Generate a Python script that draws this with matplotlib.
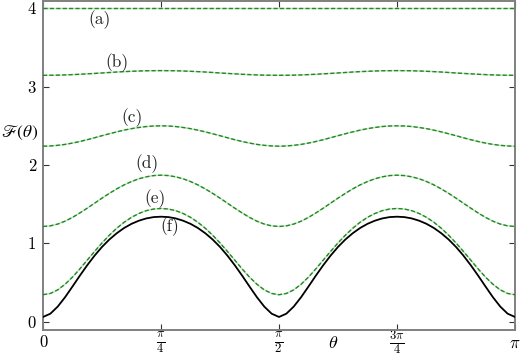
import numpy as np
import matplotlib
matplotlib.use("Agg")
import matplotlib.pyplot as plt

plt.rcParams['font.family'] = 'serif'
plt.rcParams['font.serif'] = ['cmr10']
plt.rcParams['mathtext.fontset'] = 'cm'
plt.rcParams['axes.unicode_minus'] = False

# ---------------- data ----------------
theta = np.linspace(0, np.pi, 65)

theta_a = [0.0, np.pi / 4, np.pi / 2, 3 * np.pi / 4, np.pi]
F_a = [4.0, 4.0, 4.0, 4.0, 4.0]

F_b = [3.145, 3.146, 3.147, 3.150, 3.154, 3.158, 3.164, 3.169, 3.175, 3.181, 3.187, 3.192, 3.196, 3.200, 3.203, 3.204, 3.205,
       3.204, 3.203, 3.200, 3.196, 3.192, 3.187, 3.181, 3.175, 3.169, 3.164, 3.158, 3.154, 3.150, 3.147, 3.146, 3.145,
       3.146, 3.147, 3.150, 3.154, 3.158, 3.164, 3.169, 3.175, 3.181, 3.187, 3.192, 3.196, 3.200, 3.203, 3.204, 3.205,
       3.204, 3.203, 3.200, 3.196, 3.192, 3.187, 3.181, 3.175, 3.169, 3.164, 3.158, 3.154, 3.150, 3.147, 3.146, 3.145]

F_c = [2.240, 2.243, 2.251, 2.263, 2.280, 2.300, 2.323, 2.348, 2.374, 2.399, 2.423, 2.445, 2.464, 2.479, 2.491, 2.498, 2.500,
       2.498, 2.491, 2.479, 2.464, 2.445, 2.423, 2.399, 2.374, 2.348, 2.323, 2.300, 2.280, 2.263, 2.251, 2.243, 2.240,
       2.243, 2.251, 2.263, 2.280, 2.300, 2.323, 2.348, 2.374, 2.399, 2.423, 2.445, 2.464, 2.479, 2.491, 2.498, 2.500,
       2.498, 2.491, 2.479, 2.464, 2.445, 2.423, 2.399, 2.374, 2.348, 2.323, 2.300, 2.280, 2.263, 2.251, 2.243, 2.240]

F_d = [1.215, 1.223, 1.246, 1.283, 1.331, 1.388, 1.449, 1.513, 1.577, 1.638, 1.695, 1.746, 1.789, 1.824, 1.849, 1.865, 1.870,
       1.865, 1.849, 1.824, 1.789, 1.746, 1.695, 1.638, 1.577, 1.513, 1.449, 1.388, 1.331, 1.283, 1.246, 1.223, 1.215,
       1.223, 1.246, 1.283, 1.331, 1.388, 1.449, 1.513, 1.577, 1.638, 1.695, 1.746, 1.789, 1.824, 1.849, 1.865, 1.870,
       1.865, 1.849, 1.824, 1.789, 1.746, 1.695, 1.638, 1.577, 1.513, 1.449, 1.388, 1.331, 1.283, 1.246, 1.223, 1.215]

F_e = [0.344, 0.360, 0.406, 0.478, 0.569, 0.674, 0.786, 0.897, 1.005, 1.104, 1.193, 1.269, 1.332, 1.381, 1.417, 1.438, 1.445,
       1.438, 1.417, 1.381, 1.332, 1.269, 1.193, 1.104, 1.005, 0.897, 0.786, 0.674, 0.569, 0.478, 0.406, 0.360, 0.344,
       0.360, 0.406, 0.478, 0.569, 0.674, 0.786, 0.897, 1.005, 1.104, 1.193, 1.269, 1.332, 1.381, 1.417, 1.438, 1.445,
       1.438, 1.417, 1.381, 1.332, 1.269, 1.193, 1.104, 1.005, 0.897, 0.786, 0.674, 0.569, 0.478, 0.406, 0.360, 0.344]

F_f = [0.060, 0.102, 0.193, 0.313, 0.449, 0.588, 0.721, 0.844, 0.954, 1.049, 1.129, 1.196, 1.249, 1.289, 1.318, 1.335, 1.340,
       1.335, 1.318, 1.289, 1.249, 1.196, 1.129, 1.049, 0.954, 0.844, 0.721, 0.588, 0.449, 0.313, 0.193, 0.102, 0.060,
       0.102, 0.193, 0.313, 0.449, 0.588, 0.721, 0.844, 0.954, 1.049, 1.129, 1.196, 1.249, 1.289, 1.318, 1.335, 1.340,
       1.335, 1.318, 1.289, 1.249, 1.196, 1.129, 1.049, 0.954, 0.844, 0.721, 0.588, 0.449, 0.313, 0.193, 0.102, 0.060]

curve_labels = ['(a)', '(b)', '(c)', '(d)', '(e)', '(f)']
label_x = [0.378, 0.494, 0.590, 0.690, 0.745, 0.841]
label_y = [3.86, 3.31, 2.60, 2.02, 1.575, 1.213]

xtick_vals = [0, np.pi / 4, np.pi / 2, 3 * np.pi / 4, np.pi]
xtick_labels = ['0', r'$\frac{\pi}{4}$', r'$\frac{\pi}{2}$', r'$\frac{3\pi}{4}$', r'$\pi$']
ytick_vals = [0, 1, 2, 3, 4]
ytick_labels = ['0', '1', '2', '3', '4']

# ---------------- plot ----------------
fig = plt.figure(figsize=(5.21, 3.56), dpi=100)
ax = fig.add_axes([43 / 521, (356 - 329.5) / 356, 472 / 521, 329 / 356])

green = '#1f8a1f'
halo = '#bfe0bf'
dash = dict(color=green, lw=1.0, linestyle=(0, (3.0, 1.6)), zorder=3)
under = dict(color=halo, lw=1.0, zorder=2)
for xs, ys in [(theta_a, F_a), (theta, F_b), (theta, F_c), (theta, F_d), (theta, F_e)]:
    ax.plot(xs, ys, **under)
    ax.plot(xs, ys, **dash)
ax.plot(theta, F_f, color='black', lw=1.3, zorder=4)

for t, x, y in zip(curve_labels, label_x, label_y):
    ax.text(x, y, t, fontsize=12.5, ha='center', va='center', color='#222222')

ax.set_xlim(0, np.pi)
ax.set_ylim(-0.1, 4.1)
ax.set_xticks(xtick_vals)
ax.set_xticklabels(xtick_labels)
ax.set_yticks(ytick_vals)
ax.set_yticklabels(ytick_labels)

ax.tick_params(direction='in', length=4, width=0.8, top=True, right=True,
               labelsize=12, color='#333333')
ax.tick_params(axis='x', pad=9.5)
ax.tick_params(axis='y', pad=5)
for i, lbl in enumerate(ax.get_xticklabels()):
    lbl.set_va('center')
    if i in (1, 2, 3):
        lbl.set_fontsize(13)

for s in ax.spines.values():
    s.set_color('#808080')
    s.set_linewidth(1.4)

ax.set_xlabel(r'$\theta$', fontsize=13)
ax.xaxis.set_label_coords(0.614, -0.041)
ax.xaxis.label.set_va('center')

ax.set_ylabel(r'$\mathscr{F}(\theta)$', fontsize=12.5, rotation=0,
              math_fontfamily='stix', ha='center', va='center')
ax.yaxis.set_label_coords(-0.049, 0.599)

fig.savefig('out.png', dpi=100)
